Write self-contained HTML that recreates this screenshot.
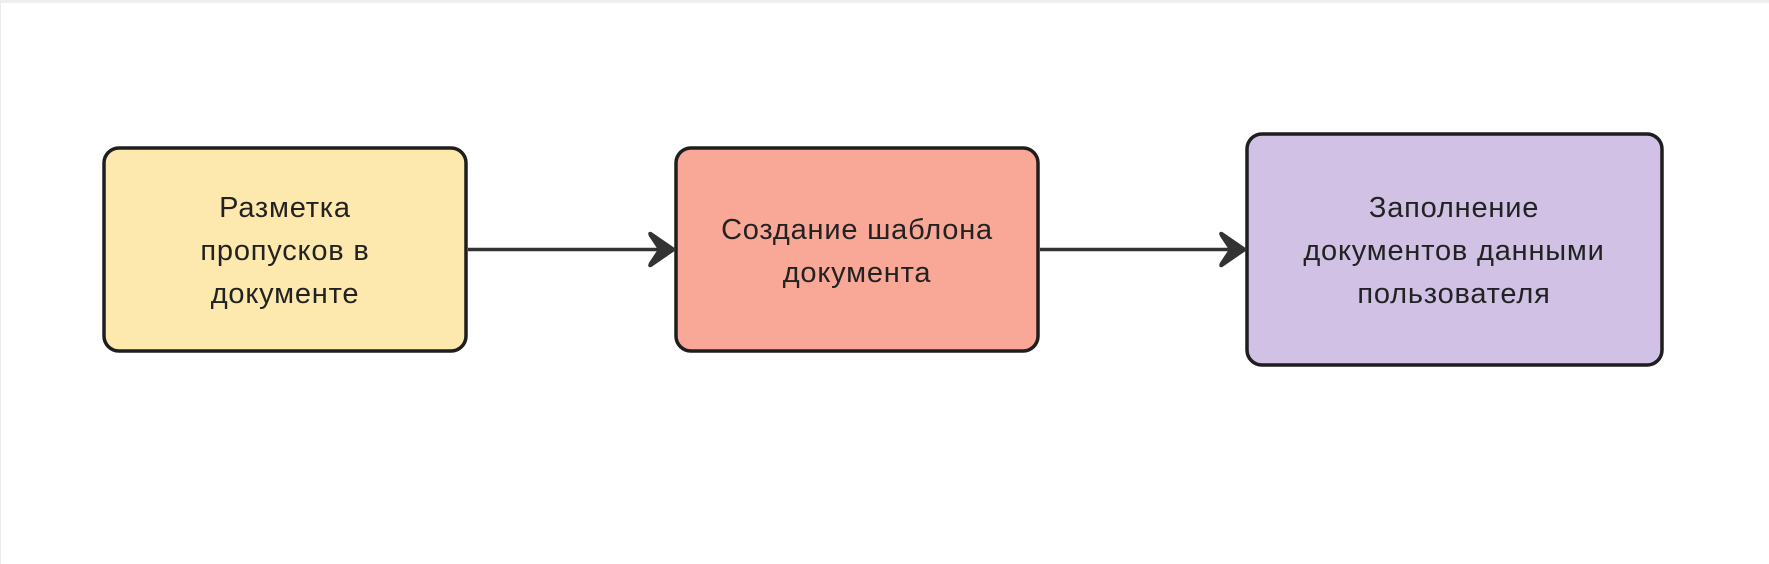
<!DOCTYPE html>
<html><head><meta charset="utf-8"><style>
html,body{margin:0;padding:0;background:#fff;width:1769px;height:564px;overflow:hidden}
</style></head><body>
<svg width="1769" height="564" xmlns="http://www.w3.org/2000/svg" style="display:block">
<rect x="0" y="0" width="1769" height="564" fill="#fff"/>
<rect x="0" y="0" width="1769" height="3" fill="#efeff0"/>
<rect x="0" y="0" width="1" height="564" fill="#ececec"/>
<g stroke="#1e1e1e" stroke-width="3.5">
<rect x="104" y="148" width="362" height="203" rx="15" fill="#fde8ad"/>
<rect x="676" y="148" width="362" height="203" rx="15" fill="#f9a897"/>
<rect x="1247" y="134" width="415" height="231" rx="15" fill="#d0c1e5"/>
</g>
<g stroke="#333" stroke-width="3.5" fill="none">
<line x1="468" y1="249.5" x2="664" y2="249.5"/>
<line x1="1040" y1="249.5" x2="1235" y2="249.5"/>
</g>
<g fill="#333" stroke="#333" stroke-width="2" stroke-linejoin="round">
<path d="M675 249.5 L651 233 Q648 232 650 236 L659 249.5 L650 263 Q648 267 651 266 Z"/>
<path d="M1246 249.5 L1222 233 Q1219 232 1221 236 L1230 249.5 L1221 263 Q1219 267 1222 266 Z"/>
</g>
<g font-family="Liberation Sans, DejaVu Sans, sans-serif" font-size="29" letter-spacing="0.8" fill="#222" text-anchor="middle">
<text x="285" y="217">Разметка</text>
<text x="285" y="260">пропусков в</text>
<text x="285" y="303">документе</text>
<text x="857" y="239">Создание шаблона</text>
<text x="857" y="282">документа</text>
<text x="1454" y="217">Заполнение</text>
<text x="1454" y="260">документов данными</text>
<text x="1454" y="303">пользователя</text>
</g>
</svg>
</body></html>
